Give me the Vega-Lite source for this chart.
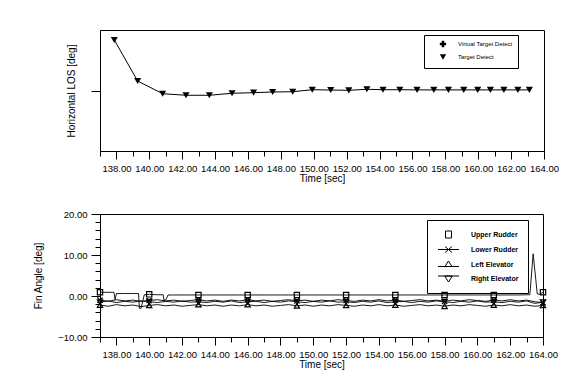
{
  "$schema": "https://vega.github.io/schema/vega-lite/v6.json",
  "autosize": {"type": "pad"},
  "padding": {"left": 33, "top": 29, "right": 5, "bottom": 5},
  "background": "white",
  "bounds": "flush",
  "spacing": 63,
  "config": {
    "font": "Liberation Sans",
    "view": {"stroke": "black", "strokeWidth": 1},
    "axis": {
      "grid": false,
      "domainColor": "black",
      "tickColor": "black",
      "labelColor": "black",
      "titleColor": "black",
      "labelFont": "Liberation Sans",
      "titleFont": "Liberation Sans",
      "labelFontSize": 9.5,
      "titleFontSize": 10,
      "titleFontWeight": "normal"
    }
  },
  "datasets": {
    "los": [
      {"t": 137.87, "los": 8.35, "series": "Target Detect"},
      {"t": 139.29, "los": 1.57, "series": "Target Detect"},
      {"t": 140.81, "los": -0.53, "series": "Target Detect"},
      {"t": 142.23, "los": -0.79, "series": "Target Detect"},
      {"t": 143.65, "los": -0.79, "series": "Target Detect"},
      {"t": 145.03, "los": -0.46, "series": "Target Detect"},
      {"t": 146.34, "los": -0.36, "series": "Target Detect"},
      {"t": 147.5, "los": -0.25, "series": "Target Detect"},
      {"t": 148.72, "los": -0.2, "series": "Target Detect"},
      {"t": 149.91, "los": 0.13, "series": "Target Detect"},
      {"t": 151.03, "los": 0.08, "series": "Target Detect"},
      {"t": 152.13, "los": 0.03, "series": "Target Detect"},
      {"t": 153.23, "los": 0.2, "series": "Target Detect"},
      {"t": 154.21, "los": 0.13, "series": "Target Detect"},
      {"t": 155.23, "los": 0.13, "series": "Target Detect"},
      {"t": 156.28, "los": 0.1, "series": "Target Detect"},
      {"t": 157.3, "los": 0.1, "series": "Target Detect"},
      {"t": 158.19, "los": 0.1, "series": "Target Detect"},
      {"t": 159.12, "los": 0.1, "series": "Target Detect"},
      {"t": 159.97, "los": 0.1, "series": "Target Detect"},
      {"t": 160.74, "los": 0.1, "series": "Target Detect"},
      {"t": 161.56, "los": 0.1, "series": "Target Detect"},
      {"t": 162.41, "los": 0.1, "series": "Target Detect"},
      {"t": 163.11, "los": 0.1, "series": "Target Detect"}
    ],
    "fins": [
      {"t": 137.0, "Upper Rudder": 0.9, "Lower Rudder": -1.0, "Right Elevator": -1.5, "Left Elevator": -2.2},
      {"t": 137.5, "Upper Rudder": 0.9, "Lower Rudder": -1.3, "Right Elevator": -1.2, "Left Elevator": -2.5},
      {"t": 137.85, "Upper Rudder": 0.9},
      {"t": 137.92, "Upper Rudder": -0.9},
      {"t": 138.0, "Upper Rudder": 0.6, "Lower Rudder": -0.9, "Right Elevator": -1.6, "Left Elevator": -2.1},
      {"t": 138.5, "Upper Rudder": 0.6, "Lower Rudder": -1.2, "Right Elevator": -1.3, "Left Elevator": -2.4},
      {"t": 139.0, "Upper Rudder": 0.6, "Lower Rudder": -1.0, "Right Elevator": -1.5, "Left Elevator": -2.2},
      {"t": 139.35, "Upper Rudder": 0.6},
      {"t": 139.4, "Upper Rudder": -3.0},
      {"t": 139.5, "Upper Rudder": -3.0, "Lower Rudder": -1.3, "Right Elevator": -1.2, "Left Elevator": -2.6},
      {"t": 139.7, "Upper Rudder": 0.3},
      {"t": 140.0, "Upper Rudder": 0.4, "Lower Rudder": -1.1, "Right Elevator": -1.4, "Left Elevator": -2.3},
      {"t": 140.5, "Upper Rudder": 0.3, "Lower Rudder": -0.9, "Right Elevator": -1.6, "Left Elevator": -2.1},
      {"t": 140.85, "Upper Rudder": 0.3},
      {"t": 140.9, "Upper Rudder": -1.0},
      {"t": 141.0, "Upper Rudder": -1.0, "Lower Rudder": -1.2, "Right Elevator": -1.3, "Left Elevator": -2.4},
      {"t": 141.15, "Upper Rudder": 0.25},
      {"t": 141.5, "Upper Rudder": 0.25, "Lower Rudder": -1.0, "Right Elevator": -1.5, "Left Elevator": -2.2},
      {"t": 142.0, "Upper Rudder": 0.25, "Lower Rudder": -1.3, "Right Elevator": -1.2, "Left Elevator": -2.5},
      {"t": 142.5, "Upper Rudder": 0.25, "Lower Rudder": -1.1, "Right Elevator": -1.5, "Left Elevator": -2.3},
      {"t": 143.0, "Upper Rudder": 0.25, "Lower Rudder": -0.9, "Right Elevator": -1.4, "Left Elevator": -2.1},
      {"t": 143.5, "Upper Rudder": 0.25, "Lower Rudder": -1.2, "Right Elevator": -1.6, "Left Elevator": -2.4},
      {"t": 144.0, "Upper Rudder": 0.25, "Lower Rudder": -1.0, "Right Elevator": -1.3, "Left Elevator": -2.2},
      {"t": 144.5, "Upper Rudder": 0.25, "Lower Rudder": -1.3, "Right Elevator": -1.5, "Left Elevator": -2.5},
      {"t": 145.0, "Upper Rudder": 0.25, "Lower Rudder": -1.0, "Right Elevator": -1.2, "Left Elevator": -2.2},
      {"t": 145.5, "Upper Rudder": 0.25, "Lower Rudder": -1.2, "Right Elevator": -1.6, "Left Elevator": -2.4},
      {"t": 146.0, "Upper Rudder": 0.25, "Lower Rudder": -0.9, "Right Elevator": -1.4, "Left Elevator": -2.1},
      {"t": 146.5, "Upper Rudder": 0.25, "Lower Rudder": -1.2, "Right Elevator": -1.3, "Left Elevator": -2.4},
      {"t": 147.0, "Upper Rudder": 0.25, "Lower Rudder": -1.0, "Right Elevator": -1.6, "Left Elevator": -2.2},
      {"t": 147.5, "Upper Rudder": 0.25, "Lower Rudder": -1.3, "Right Elevator": -1.3, "Left Elevator": -2.5},
      {"t": 148.0, "Upper Rudder": 0.25, "Lower Rudder": -1.1, "Right Elevator": -1.5, "Left Elevator": -2.3},
      {"t": 148.5, "Upper Rudder": 0.25, "Lower Rudder": -0.9, "Right Elevator": -1.2, "Left Elevator": -2.1},
      {"t": 149.0, "Upper Rudder": 0.25, "Lower Rudder": -1.2, "Right Elevator": -1.4, "Left Elevator": -2.4},
      {"t": 149.5, "Upper Rudder": 0.25, "Lower Rudder": -1.0, "Right Elevator": -1.6, "Left Elevator": -2.2},
      {"t": 150.0, "Upper Rudder": 0.25, "Lower Rudder": -1.3, "Right Elevator": -1.3, "Left Elevator": -2.5},
      {"t": 150.5, "Upper Rudder": 0.25, "Lower Rudder": -1.0, "Right Elevator": -1.5, "Left Elevator": -2.2},
      {"t": 151.0, "Upper Rudder": 0.25, "Lower Rudder": -1.2, "Right Elevator": -1.2, "Left Elevator": -2.4},
      {"t": 151.5, "Upper Rudder": 0.25, "Lower Rudder": -0.9, "Right Elevator": -1.5, "Left Elevator": -2.1},
      {"t": 152.0, "Upper Rudder": 0.25, "Lower Rudder": -1.1, "Right Elevator": -1.4, "Left Elevator": -2.3},
      {"t": 152.5, "Upper Rudder": 0.25, "Lower Rudder": -1.3, "Right Elevator": -1.6, "Left Elevator": -2.5},
      {"t": 153.0, "Upper Rudder": 0.25, "Lower Rudder": -1.0, "Right Elevator": -1.3, "Left Elevator": -2.2},
      {"t": 153.5, "Upper Rudder": 0.25, "Lower Rudder": -1.2, "Right Elevator": -1.5, "Left Elevator": -2.4},
      {"t": 154.0, "Upper Rudder": 0.25, "Lower Rudder": -0.9, "Right Elevator": -1.2, "Left Elevator": -2.1},
      {"t": 154.5, "Upper Rudder": 0.25, "Lower Rudder": -1.2, "Right Elevator": -1.6, "Left Elevator": -2.4},
      {"t": 155.0, "Upper Rudder": 0.25, "Lower Rudder": -1.0, "Right Elevator": -1.4, "Left Elevator": -2.2},
      {"t": 155.5, "Upper Rudder": 0.25, "Lower Rudder": -1.3, "Right Elevator": -1.3, "Left Elevator": -2.5},
      {"t": 156.0, "Upper Rudder": 0.25, "Lower Rudder": -1.1, "Right Elevator": -1.6, "Left Elevator": -2.3},
      {"t": 156.5, "Upper Rudder": 0.25, "Lower Rudder": -0.9, "Right Elevator": -1.3, "Left Elevator": -2.1},
      {"t": 157.0, "Upper Rudder": 0.25, "Lower Rudder": -1.2, "Right Elevator": -1.5, "Left Elevator": -2.4},
      {"t": 157.5, "Upper Rudder": 0.25, "Lower Rudder": -1.0, "Right Elevator": -1.2, "Left Elevator": -2.2},
      {"t": 158.0, "Upper Rudder": 0.25, "Lower Rudder": -1.3, "Right Elevator": -1.4, "Left Elevator": -2.5},
      {"t": 158.5, "Upper Rudder": 0.25, "Lower Rudder": -1.0, "Right Elevator": -1.6, "Left Elevator": -2.2},
      {"t": 159.0, "Upper Rudder": 0.25, "Lower Rudder": -1.2, "Right Elevator": -1.3, "Left Elevator": -2.4},
      {"t": 159.5, "Upper Rudder": 0.25, "Lower Rudder": -0.9, "Right Elevator": -1.5, "Left Elevator": -2.1},
      {"t": 160.0, "Upper Rudder": 0.25, "Lower Rudder": -1.1, "Right Elevator": -1.2, "Left Elevator": -2.3},
      {"t": 160.5, "Upper Rudder": 0.25, "Lower Rudder": -1.3, "Right Elevator": -1.5, "Left Elevator": -2.5},
      {"t": 161.0, "Upper Rudder": 0.25, "Lower Rudder": -1.0, "Right Elevator": -1.4, "Left Elevator": -2.2},
      {"t": 161.5, "Upper Rudder": 0.25, "Lower Rudder": -1.2, "Right Elevator": -1.6, "Left Elevator": -2.4},
      {"t": 162.0, "Upper Rudder": 0.25, "Lower Rudder": -0.9, "Right Elevator": -1.3, "Left Elevator": -2.1},
      {"t": 162.5, "Upper Rudder": 0.25, "Lower Rudder": -1.2, "Right Elevator": -1.5, "Left Elevator": -2.4},
      {"t": 163.0, "Upper Rudder": 0.3, "Lower Rudder": -1.0, "Right Elevator": -1.2, "Left Elevator": -2.2},
      {"t": 163.2, "Upper Rudder": 0.3},
      {"t": 163.4, "Upper Rudder": 10.3},
      {"t": 163.5, "Upper Rudder": 6.4, "Lower Rudder": -1.4, "Right Elevator": -1.8, "Left Elevator": -2.5},
      {"t": 163.65, "Upper Rudder": 0.5},
      {"t": 163.8, "Upper Rudder": 0.4},
      {"t": 164.0, "Upper Rudder": 0.9, "Lower Rudder": -1.6, "Right Elevator": -1.5, "Left Elevator": -2.3}
    ]
  },
  "resolve": {
    "scale": {"x": "independent", "y": "independent", "shape": "independent"},
    "legend": {"shape": "independent"}
  },
  "vconcat": [
    {
      "width": 444,
      "height": 121,
      "data": {"name": "los"},
      "encoding": {
        "x": {
          "field": "t",
          "type": "quantitative",
          "scale": {"domain": [137, 164], "nice": false, "zero": false},
          "axis": {
            "title": "Time [sec]",
            "values": [137,138,139,140,141,142,143,144,145,146,147,148,149,150,151,152,153,154,155,156,157,158,159,160,161,162,163,164],
            "labelExpr": "datum.value % 2 == 0 ? format(datum.value, '.2f') : ''",
            "tickSize": {"condition": {"test": "datum.value % 2 == 0", "value": 8}, "value": 5},
            "labelPadding": 4,
            "labelOverlap": false,
            "labelFlush": false,
            "titlePadding": 1
          }
        },
        "y": {
          "field": "los",
          "type": "quantitative",
          "scale": {"domain": [-10, 10], "nice": false},
          "axis": {
            "title": "Horizontal LOS [deg]",
            "values": [0],
            "labels": false,
            "tickSize": 9,
            "titlePadding": 14
          }
        }
      },
      "layer": [
        {"mark": {"type": "line", "color": "black", "strokeWidth": 1}},
        {
          "mark": {"type": "point", "filled": true, "color": "black", "size": 50, "opacity": 1},
          "encoding": {
            "shape": {
              "field": "series",
              "type": "nominal",
              "scale": {"domain": ["Virtual Target Detect", "Target Detect"], "range": ["cross", "triangle-down"]},
              "legend": {
                "orient": "none",
                "legendX": 324,
                "legendY": 5,
                "title": null,
                "strokeColor": "black",
                "padding": 5,
                "labelFont": "Liberation Sans",
                "labelFontSize": 6,
                "labelColor": "black",
                "symbolSize": 40,
                "symbolFillColor": "black",
                "symbolStrokeColor": "black",
                "symbolOffset": 10,
                "labelOffset": 11,
                "rowPadding": 0
              }
            }
          }
        }
      ]
    },
    {
      "width": 443,
      "height": 123,
      "data": {"name": "fins"},
      "transform": [
        {"fold": ["Upper Rudder", "Lower Rudder", "Left Elevator", "Right Elevator"], "as": ["series", "deg"]},
        {"filter": "isValid(datum.deg)"}
      ],
      "encoding": {
        "x": {
          "field": "t",
          "type": "quantitative",
          "scale": {"domain": [137, 164], "nice": false, "zero": false},
          "axis": {
            "title": "Time [sec]",
            "values": [137,138,139,140,141,142,143,144,145,146,147,148,149,150,151,152,153,154,155,156,157,158,159,160,161,162,163,164],
            "labelExpr": "datum.value % 2 == 0 ? format(datum.value, '.2f') : ''",
            "tickSize": {"condition": {"test": "datum.value % 2 == 0", "value": 8}, "value": 5},
            "labelPadding": 4,
            "labelOverlap": false,
            "labelFlush": false,
            "titlePadding": 1
          }
        },
        "y": {
          "field": "deg",
          "type": "quantitative",
          "scale": {"domain": [-10, 20], "nice": false},
          "axis": {
            "title": "Fin Angle [deg]",
            "values": [-10,-8,-6,-4,-2,0,2,4,6,8,10,12,14,16,18,20],
            "labelExpr": "datum.value % 10 == 0 ? format(datum.value, '.2f') : ''",
            "tickSize": {"condition": {"test": "datum.value % 10 == 0", "value": 9}, "value": 5},
            "labelPadding": 4,
            "labelOverlap": false,
            "labelFlush": false,
            "titlePadding": 14
          }
        }
      },
      "resolve": {"scale": {"shape": "independent"}, "legend": {"shape": "independent"}},
      "layer": [
        {
          "mark": {"type": "line", "color": "black", "strokeWidth": 0.9},
          "encoding": {"detail": {"field": "series", "type": "nominal"}}
        },
        {
          "transform": [{"filter": "(datum.t - 137) % 3 == 0"}],
          "mark": {"type": "point", "filled": false, "color": "black", "size": 28, "strokeWidth": 1.2, "opacity": 1},
          "encoding": {
            "shape": {
              "field": "series",
              "type": "nominal",
              "scale": {
                "domain": ["Upper Rudder", "Lower Rudder", "Left Elevator", "Right Elevator"],
                "range": ["square", "M-1,-1L1,1M-1,1L1,-1", "triangle-up", "triangle-down"]
              },
              "legend": null
            }
          }
        },
        {
          "transform": [{"filter": "false"}],
          "mark": {"type": "point", "filled": false, "color": "black", "strokeWidth": 1, "opacity": 1},
          "encoding": {
            "shape": {
              "field": "series",
              "type": "nominal",
              "scale": {
                "domain": ["Upper Rudder", "Lower Rudder", "Left Elevator", "Right Elevator"],
                "range": [
                  "M-0.6,-0.7H0.6V0.7H-0.6Z",
                  "M-2.1,0H2.1M-0.7,-0.6L0.7,0.6M-0.7,0.6L0.7,-0.6",
                  "M-2.1,0.4H2.1M-0.7,0.4L0,-0.7L0.7,0.4Z",
                  "M-2.1,-0.5H2.1M-0.75,-0.5L0.75,-0.5L0,0.7Z"
                ]
              },
              "legend": {
                "orient": "none",
                "legendX": 327,
                "legendY": 6,
                "title": null,
                "strokeColor": "black",
                "padding": 9,
                "labelFont": "Liberation Sans",
                "labelFontSize": 7,
                "labelFontWeight": "bold",
                "labelColor": "black",
                "symbolSize": 100,
                "symbolStrokeColor": "black",
                "symbolStrokeWidth": 1,
                "symbolOffset": 7,
                "labelOffset": 17,
                "rowPadding": 4
              }
            }
          }
        }
      ]
    }
  ]
}
